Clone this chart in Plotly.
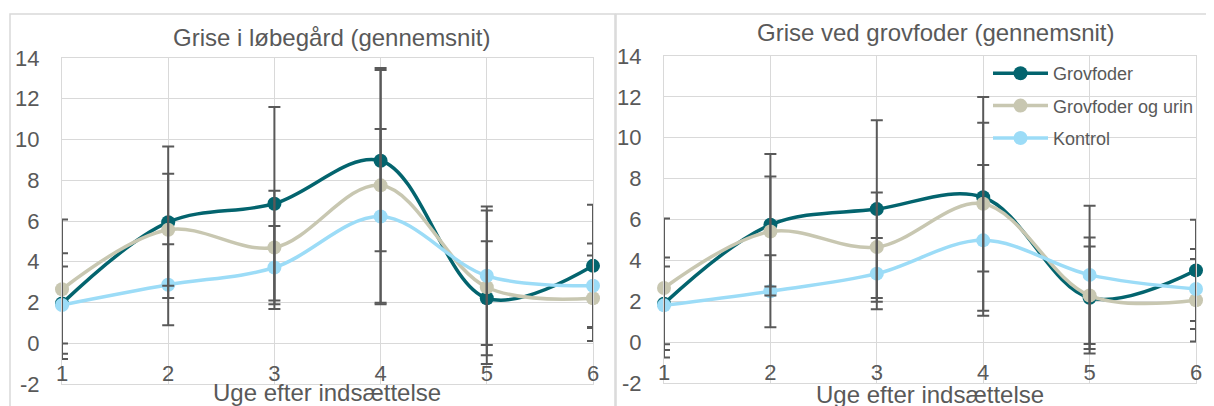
import plotly.graph_objects as go

# ---------------- data ----------------
weeks = [1, 2, 3, 4, 5, 6]
series_names = ["Grovfoder", "Grovfoder og urin", "Kontrol"]
panel_titles = ["Grise i løbegård (gennemsnit)", "Grise ved grovfoder (gennemsnit)"]
x_title = "Uge efter indsættelse"
y_ticks = [-2, 0, 2, 4, 6, 8, 10, 12, 14]
y_ticklabels = ["-2", "0", "2", "4", "6", "8", "10", "12", "14"]

# left panel (løbegård)
lob_grov = [1.95, 5.94, 6.85, 8.96, 2.21, 3.80]
lob_grov_err = [2.47, 3.72, 4.75, 4.45, 2.80, 3.00]
lob_urin = [2.65, 5.57, 4.70, 7.75, 2.75, 2.21]
lob_urin_err = [3.42, 2.75, 2.78, 5.76, 3.77, 2.10]
lob_kontrol = [1.88, 2.87, 3.72, 6.22, 3.31, 2.82]
lob_kontrol_err = [1.89, 1.99, 2.04, 4.30, 3.40, 2.07]

# right panel (grovfoder)
gf_grov = [1.88, 5.74, 6.51, 7.09, 2.17, 3.51]
gf_grov_err = [2.26, 3.46, 4.35, 3.64, 2.51, 2.48]
gf_urin = [2.65, 5.41, 4.65, 6.77, 2.28, 2.05]
gf_urin_err = [3.40, 2.69, 2.67, 5.23, 2.84, 2.02]
gf_kontrol = [1.80, 2.49, 3.35, 4.98, 3.29, 2.60]
gf_kontrol_err = [1.90, 1.76, 1.74, 3.69, 3.38, 1.96]

# ---------------- style ----------------
colors = ["#03646E", "#C8C7B1", "#9CDCF7"]
err_color = "#595959"
grid_color = "#D9D9D9"
text_color = "#595959"
font_family = "Arial, Liberation Sans, sans-serif"

# the page body has an 8px margin, so the figure is drawn 8px smaller and
# all pixel positions below are given in window coordinates minus that offset
OFF = 8
W, H = 1214 - OFF, 406 - OFF


def px(x):
    return (x - OFF) / W


def py(y):
    return (H - (y - OFF)) / H


fig = go.Figure()

panels = [
    ("x", "y", [lob_grov, lob_urin, lob_kontrol], [lob_grov_err, lob_urin_err, lob_kontrol_err], False),
    ("x2", "y2", [gf_grov, gf_urin, gf_kontrol], [gf_grov_err, gf_urin_err, gf_kontrol_err], True),
]

for xa, ya, vals, errs, show in panels:
    for i, (name, v) in enumerate(zip(series_names, vals)):
        fig.add_trace(go.Scatter(
            x=weeks, y=v, name=name, xaxis=xa, yaxis=ya,
            mode="lines+markers", line=dict(color=colors[i], width=3.5, shape="spline", smoothing=1),
            marker=dict(color=colors[i], size=14),
            legendgroup=name, showlegend=show, cliponaxis=False,
        ))
    for i, (name, v, e) in enumerate(zip(series_names, vals, errs)):
        fig.add_trace(go.Scatter(
            x=weeks, y=v, xaxis=xa, yaxis=ya, mode="markers",
            marker=dict(color="rgba(0,0,0,0)", size=1),
            error_y=dict(type="data", array=e, visible=True, color=err_color, thickness=2, width=6),
            legendgroup=name, showlegend=False, hoverinfo="skip", cliponaxis=True,
        ))

axis_common = dict(showgrid=True, gridcolor=grid_color, gridwidth=1.3, zeroline=False,
                   showline=True, linecolor=grid_color, linewidth=1.3, mirror=True,
                   automargin=False,
                   tickfont=dict(size=22, color=text_color, family=font_family))

xl = dict(axis_common, range=[1, 6], tickvals=weeks, ticks="", ticklabelposition="inside",
          ticklabeloverflow="allow")
yl = dict(axis_common, range=[-2, 14], tickvals=y_ticks, ticktext=y_ticklabels, ticks="",
          ticklabelstandoff=17)

fig.update_layout(
    width=W, height=H,
    margin=dict(l=0, r=0, t=0, b=0, autoexpand=False),
    paper_bgcolor="white", plot_bgcolor="white",
    font=dict(family=font_family, color=text_color),
    xaxis=dict(xl, domain=[px(62), px(593)], anchor="y"),
    yaxis=dict(yl, domain=[py(384), py(58)], anchor="x"),
    xaxis2=dict(xl, domain=[px(664), px(1196)], anchor="y2"),
    yaxis2=dict(yl, domain=[py(383), py(56)], anchor="x2"),
    showlegend=True,
    legend=dict(x=px(988), y=py(55), xanchor="left", yanchor="top",
                bgcolor="rgba(0,0,0,0)", font=dict(size=18, color=text_color, family=font_family),
                itemwidth=55, tracegroupgap=6, traceorder="grouped"),
    hovermode=False,
)

# panel frames
fig.add_shape(type="rect", xref="paper", yref="paper", x0=px(10), x1=px(615), y0=-0.1, y1=py(14),
              line=dict(color=grid_color, width=1.5), layer="below")
fig.add_shape(type="rect", xref="paper", yref="paper", x0=px(616), x1=1.1, y0=-0.1, y1=py(14),
              line=dict(color=grid_color, width=1.5), layer="below")

# titles
title_pos = [(331, 38), (936, 32)]
for t, (cx, cy) in zip(panel_titles, title_pos):
    fig.add_annotation(text=t, xref="paper", yref="paper", x=px(cx), y=py(cy),
                       xanchor="center", yanchor="middle", showarrow=False,
                       font=dict(size=24, color=text_color, family=font_family))
xt_pos = [(327, 392), (930, 394)]
for cx, cy in xt_pos:
    fig.add_annotation(text=x_title, xref="paper", yref="paper", x=px(cx), y=py(cy),
                       xanchor="center", yanchor="middle", showarrow=False,
                       font=dict(size=24, color=text_color, family=font_family))

fig.write_html("out.html")
